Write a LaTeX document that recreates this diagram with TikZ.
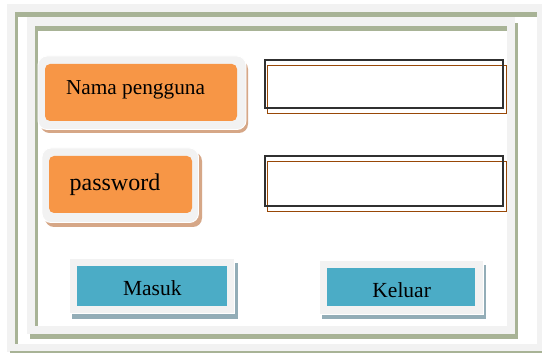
\documentclass[tikz,border=0pt]{standalone}
\usepackage{fontspec}
\setmainfont{Liberation Serif}
\definecolor{panelgray}{HTML}{F2F2F2}
\definecolor{framegreen}{HTML}{A8B396}
\definecolor{lblorange}{HTML}{F79646}
\definecolor{lblshadow}{HTML}{D6A787}
\definecolor{btnblue}{HTML}{4BACC6}
\definecolor{btnshadow}{HTML}{93ADB7}
\definecolor{fieldbrown}{HTML}{984807}
\definecolor{fielddark}{HTML}{303030}
\tikzset{
  pane/.style={fill=panelgray, draw=white, line width=0.9pt},
  lbltext/.style={anchor=base, inner sep=0pt, text=black},
}
\begin{document}
\begin{tikzpicture}[x=1pt,y=-1pt]
\useasboundingbox (0,0) rectangle (542,353);
\fill[white] (0,0) rectangle (542,353);
% outer frame
\fill[panelgray] (7,4) rectangle (542,351.5);
\fill[framegreen] (10,351.3) rectangle (542,352.6);
\fill[white] (15,12) rectangle (537,344);
\fill[framegreen] (15,12) rectangle (537,17);
\fill[framegreen] (15,12) rectangle (17.5,344);
% inner frame
\fill[framegreen] (515,23) rectangle (517.5,339);
\fill[framegreen] (30,334) rectangle (517.5,339);
\fill[panelgray] (27,17) rectangle (515,334);
\fill[white] (35,26) rectangle (507,326);
\fill[framegreen] (35,26) rectangle (507,31);
\fill[framegreen] (35,26) rectangle (37.5,326);
% label: Nama pengguna
\fill[lblshadow, rounded corners=9pt] (40.5,60) rectangle (248,133);
\draw[pane, rounded corners=9pt] (38,56) rectangle (246,129.5);
\fill[lblorange, rounded corners=5pt] (45,64) rectangle (237,121);
\node[lbltext, font=\fontsize{21.3}{25}\selectfont] (nama) at (135.5,94.5) {Nama pengguna};
% label: password
\fill[lblshadow, rounded corners=9pt] (45,152) rectangle (202,227);
\draw[pane, rounded corners=9pt] (42,148) rectangle (198.5,222.5);
\fill[lblorange, rounded corners=5pt] (49,156) rectangle (192,213);
\node[lbltext, font=\fontsize{24}{28}\selectfont] (pass) at (115,190) {password};
% input fields
\draw[fieldbrown, line width=0.9pt] (267,65) rectangle (506,113);
\draw[fielddark, line width=1.3pt] (265,60) rectangle (503,108);
\node[inner sep=0pt, minimum width=238pt, minimum height=48pt] (fieldone) at (384,84) {};
\draw[fieldbrown, line width=0.9pt] (267,161) rectangle (506,211);
\draw[fielddark, line width=1.3pt] (265,156) rectangle (503,206);
\node[inner sep=0pt, minimum width=238pt, minimum height=50pt] (fieldtwo) at (384,181) {};
% button: Masuk
\fill[btnshadow] (72,263) rectangle (237.5,319);
\draw[pane] (69,258) rectangle (234.5,313.5);
\fill[btnblue] (77,266) rectangle (227,306);
\node[lbltext, font=\fontsize{21.5}{25}\selectfont] (masuk) at (152.3,295.8) {Masuk};
% button: Keluar
\fill[btnshadow] (322,265) rectangle (486,319);
\draw[pane] (319,260) rectangle (483,314.5);
\fill[btnblue] (327,268) rectangle (475,306);
\node[lbltext, font=\fontsize{21.5}{25}\selectfont] (keluar) at (401.7,297.2) {Keluar};
\end{tikzpicture}
\end{document}
